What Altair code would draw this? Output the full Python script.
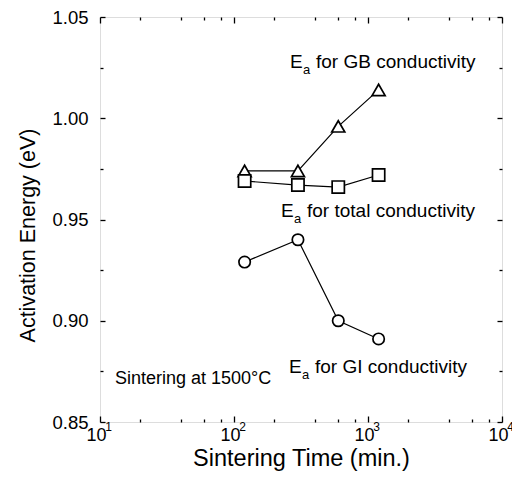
import altair as alt
import pandas as pd

# ---- data ----
times = [120, 300, 600, 1200]
ea_gb = [0.974, 0.974, 0.996, 1.014]
ea_total = [0.969, 0.967, 0.966, 0.972]
ea_gi = [0.929, 0.940, 0.900, 0.891]
series_names = ["GB", "total", "GI"]
label_rest = ["for GB conductivity", "for total conductivity", "for GI conductivity"]
note_text = "Sintering at 1500°C"
x_major = [10, 100, 1000, 10000]
x_minor = [20, 40, 60, 80, 200, 400, 600, 800, 2000, 4000, 6000, 8000]
y_major = [0.85, 0.90, 0.95, 1.00, 1.05]
y_minor = [0.875, 0.925, 0.975, 1.025]

rows = []
for name, vals in zip(series_names, [ea_gb, ea_total, ea_gi]):
    for t, v in zip(times, vals):
        rows.append({"time": t, "ea": v, "series": name})
df = pd.DataFrame(rows)

W, H = 402, 405
FONT = "Liberation Sans"

xscale = alt.Scale(type="log", domain=[10, 10000], nice=False)
yscale = alt.Scale(domain=[0.85, 1.05], nice=False, zero=False)

def axis_layer(xaxis, yaxis):
    return alt.Chart(df).mark_point(opacity=0).encode(
        x=alt.X("time:Q", scale=xscale, axis=xaxis),
        y=alt.Y("ea:Q", scale=yscale, axis=yaxis),
    )

common = dict(domain=False, grid=False, tickColor="black", tickWidth=1.3)

exp_expr = "datum.value == 10 ? '1' : datum.value == 100 ? '2' : datum.value == 1000 ? '3' : '4'"

ax_main = axis_layer(
    alt.Axis(orient="bottom", values=x_major, tickSize=6, offset=-6, labelExpr="'10'",
             labelFont=FONT, labelFontSize=18, labelColor="black", labelPadding=4,
             labelOffset=-4, labelFlush=False, labelOverlap=False, labelBound=False,
             title="Sintering Time (min.)", titleFont=FONT, titleFontSize=23.5,
             titleFontWeight="normal", titleColor="black", titlePadding=2, **common),
    alt.Axis(orient="left", values=y_major, tickSize=5, offset=-5, format=".2f",
             labelFont=FONT, labelFontSize=18.5, labelColor="black", labelPadding=12,
             labelFlush=False, labelOverlap=False,
             title="Activation Energy (eV)", titleFont=FONT, titleFontSize=21.5,
             titleFontWeight="normal", titleColor="black", titlePadding=12,
             titleY=218, **common),
)
ax_exp = axis_layer(
    alt.Axis(orient="bottom", values=x_major, tickSize=6, offset=-6, labelExpr=exp_expr,
             labelFont=FONT, labelFontSize=12, labelColor="black", labelPadding=-1,
             labelOffset=8, labelFlush=False, labelOverlap=False, labelBound=False,
             title=None, tickOpacity=0, domain=False, grid=False),
    None,
)
ax_mirror = axis_layer(
    alt.Axis(orient="top", values=x_major, tickSize=6, offset=-6, labels=False, title=None, **common),
    alt.Axis(orient="right", values=y_major, tickSize=5, offset=-5, labels=False, title=None, **common),
)
ax_minor = axis_layer(
    alt.Axis(orient="bottom", values=x_minor, tickSize=3, offset=-3, labels=False, title=None, **common),
    alt.Axis(orient="left", values=y_minor, tickSize=3, offset=-3, labels=False, title=None, **common),
)
ax_minor_mirror = axis_layer(
    alt.Axis(orient="top", values=x_minor, tickSize=3, offset=-3, labels=False, title=None, **common),
    alt.Axis(orient="right", values=y_minor, tickSize=3, offset=-3, labels=False, title=None, **common),
)

base = alt.Chart(df).encode(
    x=alt.X("time:Q", scale=xscale, axis=None),
    y=alt.Y("ea:Q", scale=yscale, axis=None),
)
lines = base.mark_line(color="black", strokeWidth=1.2).encode(detail="series:N")
points = base.mark_point(filled=True, fill="white", stroke="black", strokeWidth=1.7,
                         opacity=1).encode(
    shape=alt.Shape("series:N", scale=alt.Scale(domain=series_names,
                                                range=["triangle-up", "square", "circle"]),
                    legend=None),
    size=alt.Size("series:N", scale=alt.Scale(domain=series_names, range=[170, 130, 140]),
                  legend=None),
)

# annotations (pixel positions inside plot area)
ann_df = pd.DataFrame({"rest": label_rest})
ann_layers = []
pos = [(190, 51), (181, 200), (189, 356)]
for i, (px, py) in enumerate(pos):
    d = ann_df.iloc[[i]]
    ann_layers.append(alt.Chart(d).mark_text(align="left", baseline="alphabetic", font=FONT,
                                              fontSize=19, color="black").encode(
        x=alt.value(px), y=alt.value(py), text=alt.value("E")))
    ann_layers.append(alt.Chart(d).mark_text(align="left", baseline="alphabetic", font=FONT,
                                              fontSize=13, color="black").encode(
        x=alt.value(px + 13), y=alt.value(py + 6), text=alt.value("a")))
    ann_layers.append(alt.Chart(d).mark_text(align="left", baseline="alphabetic", font=FONT,
                                              fontSize=19, color="black").encode(
        x=alt.value(px + 26), y=alt.value(py), text="rest:N"))

note = alt.Chart(pd.DataFrame({"t": [note_text]})).mark_text(
    align="left", baseline="alphabetic", font=FONT, fontSize=18, color="black"
).encode(x=alt.value(15), y=alt.value(367), text="t:N")

chart = alt.layer(
    ax_main, ax_exp, ax_mirror, ax_minor, ax_minor_mirror, lines, points, note, *ann_layers
).resolve_axis(x="independent", y="independent").properties(
    width=W, height=H,
    autosize=alt.AutoSizeParams(type="none"),
    padding={"left": 92, "top": 9, "right": 10, "bottom": 56},
).configure_view(stroke="black", strokeWidth=1.8).configure(background="white")

chart.save("out.html", embed_options={"renderer": "svg", "actions": False})
